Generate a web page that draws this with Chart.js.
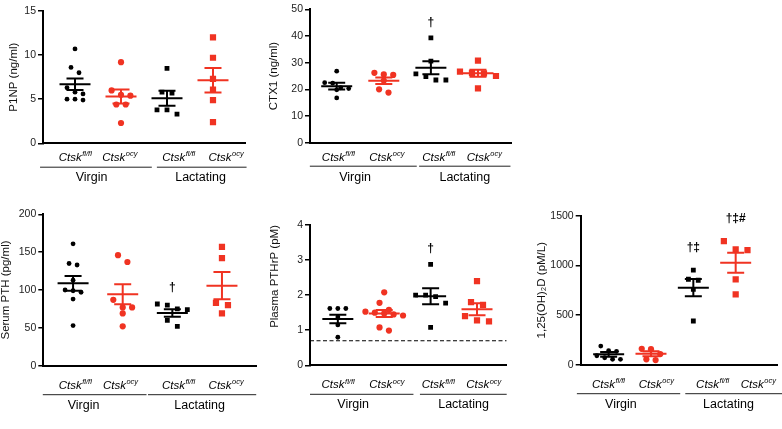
<!DOCTYPE html>
<html>
<head>
<meta charset="utf-8">
<script src="https://cdn.jsdelivr.net/npm/chart.js@4.4.1/dist/chart.umd.min.js"></script>
<style>
  body { margin: 0; background: #fff; width: 782px; height: 429px; position: relative; overflow: hidden; }
  canvas { position: absolute; }
</style>
</head>
<body>
<canvas id="p1"></canvas>
<canvas id="p2"></canvas>
<canvas id="p3"></canvas>
<canvas id="p4"></canvas>
<canvas id="p5"></canvas>
<script>
// ---- data ----
const groupNames = ["Virgin", "Lactating"];
const genoSup = ["fl/fl", "ocy", "fl/fl", "ocy"];

// P1NP (ng/ml)
const p1npFlV = [10.7, 8.6, 8.0, 6.3, 5.8, 5.6, 5.0, 5.0, 4.9];
const p1npOcyV = [9.2, 6.0, 5.5, 5.4, 4.4, 4.4, 2.3];
const p1npFlL = [8.5, 5.8, 5.7, 3.8, 3.8, 3.3];
const p1npOcyL = [12.0, 9.7, 7.3, 6.1, 4.9, 2.4];
const p1npMean = [6.7, 5.3, 5.1, 7.15];
const p1npSem = [0.65, 0.8, 0.85, 1.4];
const p1npMarks = ["", "", "", ""];
const p1npTicks = [0, 5, 10, 15];

// CTX1 (ng/ml)
const ctxFlV = [26.8, 22.5, 22.3, 20.6, 20.3, 19.8, 16.8];
const ctxOcyV = [26.2, 25.6, 25.4, 23.3, 20.0, 18.8];
const ctxFlL = [39.3, 30.6, 25.8, 24.8, 23.5, 23.5];
const ctxOcyL = [30.8, 26.6, 26.2, 26.0, 25.0, 20.4];
const ctxMean = [21.2, 23.2, 28.1, 26.0];
const ctxSem = [1.3, 1.2, 2.4, 1.3];
const ctxMarks = ["", "", "†", ""];
const ctxTicks = [0, 10, 20, 30, 40, 50];

// Serum PTH (pg/ml)
const pthFlV = [161, 135, 133, 113, 100, 99, 97, 88, 53];
const pthOcyV = [146, 137, 87, 77, 77, 69, 52];
const pthFlL = [81.5, 80, 75, 74, 60, 52];
const pthOcyL = [157, 142, 83, 80, 69];
const pthMean = [108.8, 94.3, 69.6, 105.7];
const pthSem = [9.7, 13.2, 5.0, 18];
const pthMarks = ["", "", "†", ""];
const pthTicks = [0, 50, 100, 150, 200];

// Plasma PTHrP (pM)
const pthrpFlV = [1.62, 1.62, 1.62, 1.38, 1.15, 0.8];
const pthrpOcyV = [2.08, 1.78, 1.58, 1.53, 1.5, 1.48, 1.45, 1.42, 1.08, 0.99];
const pthrpFlL = [2.88, 2.0, 2.0, 1.96, 1.77, 1.08];
const pthrpOcyL = [2.4, 1.8, 1.72, 1.4, 1.28, 1.25];
const pthrpMean = [1.32, 1.48, 1.97, 1.6];
const pthrpSem = [0.12, 0.1, 0.23, 0.17];
const pthrpMarks = ["", "", "†", ""];
const pthrpTicks = [0, 1, 2, 3, 4];
const pthrpLimit = 0.7;

// 1,25(OH)2D (pM/L)
const vitdFlV = [188, 141, 135, 90, 70, 55, 54];
const vitdOcyV = [160, 156, 107, 54, 47];
const vitdFlL = [953, 860, 850, 758, 440];
const vitdOcyL = [1245, 1160, 1154, 860, 708];
const vitdMean = [104, 111, 775, 1027];
const vitdSem = [25, 25, 87, 101];
const vitdMarks = ["", "", "†‡", "†‡#"];
const vitdTicks = [0, 500, 1000, 1500];

// ---- styling ----
const RED = "#f03322";
const BLACK = "#000";
const FONT = '"Liberation Sans", Arial, sans-serif';
const colors = [BLACK, RED, BLACK, RED];
const shapes = ["circle", "circle", "rect", "rect"];
const radii = [2.4, 3.1, 3.4, 4.4];

const panels = [
  {
    id: "p1", rect: [0, 0, 262, 195], plot: [43, 11, 245, 143.3],
    x: [0.304, 4.696], title: "P1NP (ng/ml)", titleX: 13.5, titleAlign: "center",
    series: [p1npFlV, p1npOcyV, p1npFlL, p1npOcyL], mean: p1npMean, sem: p1npSem,
    marks: p1npMarks, ticks: p1npTicks, markGap: 14,
    labX: [1.0, 1.97, 3.25, 4.28], lines: [[0.24, 2.67], [2.78, 4.73]], grpX: [1.36, 3.73],
    below: [17.5, 23.4, 37.7]
  },
  {
    id: "p2", rect: [262, 0, 258, 195], plot: [310, 9.3, 511.7, 142.7],
    x: [0.433, 4.716], title: "CTX1 (ng/ml)", titleX: 273.5, titleAlign: "center",
    series: [ctxFlV, ctxOcyV, ctxFlL, ctxOcyL], mean: ctxMean, sem: ctxSem,
    marks: ctxMarks, ticks: ctxTicks, markGap: 15,
    labX: [1.03, 2.06, 3.16, 4.13], lines: [[0.43, 2.70], [2.75, 4.69]], grpX: [1.39, 3.72],
    below: [18, 23, 38]
  },
  {
    id: "p3", rect: [0, 200, 262, 229], plot: [43.3, 214.3, 256.7, 365.7],
    x: [0.40, 4.70], title: "Serum PTH (pg/ml)", titleX: 5.5, titleAlign: "center",
    series: [pthFlV, pthOcyV, pthFlL, pthOcyL], mean: pthMean, sem: pthSem,
    marks: pthMarks, ticks: pthTicks, markGap: 16,
    labX: [1.04, 1.95, 3.12, 4.08], lines: [[0.39, 2.48], [2.51, 4.69]], grpX: [1.21, 3.55],
    below: [23, 28.5, 42.8]
  },
  {
    id: "p4", rect: [262, 200, 262, 229], plot: [310, 225, 506.7, 365.3],
    x: [0.40, 4.64], title: "Plasma PTHrP (pM)", titleX: 275, titleAlign: "end",
    series: [pthrpFlV, pthrpOcyV, pthrpFlL, pthrpOcyL], mean: pthrpMean, sem: pthrpSem,
    marks: pthrpMarks, ticks: pthrpTicks, markGap: 16, limit: pthrpLimit,
    labX: [1.00, 2.05, 3.16, 4.14], lines: [[0.40, 2.63], [2.77, 4.64]], grpX: [1.33, 3.71],
    below: [23, 28.5, 42.8]
  },
  {
    id: "p5", rect: [528, 200, 254, 229], plot: [580.7, 215.7, 780.7, 364.7],
    x: [0.34, 4.99], title: "1,25(OH)₂D (pM/L)", titleX: 542, titleAlign: "center",
    series: [vitdFlV, vitdOcyV, vitdFlL, vitdOcyL], mean: vitdMean, sem: vitdSem,
    marks: vitdMarks, ticks: vitdTicks, markGap: 22,
    labX: [0.99, 2.12, 3.45, 4.53], lines: [[0.25, 2.69], [2.81, 5.2]], grpX: [1.29, 3.83],
    below: [23, 28.5, 42.8]
  }
];

// simple GraphPad-like row layout of points around each category
function swarm(vals, cat, r, pxX, pxY) {
  const sorted = vals.slice().sort((a, b) => b - a);
  const rows = [];
  sorted.forEach(v => {
    const row = rows[rows.length - 1];
    if (row && (row[0] - v) * pxY < 2 * r + 1.5) row.push(v);
    else rows.push([v]);
  });
  const step = 2 * r + 3.2;
  const pts = [];
  rows.forEach(row => {
    row.forEach((v, i) => {
      pts.push({ x: cat + ((i - (row.length - 1) / 2) * step) / pxX, y: v });
    });
  });
  return pts;
}

function drawCtsk(ctx, cx, y, sup) {
  ctx.font = "italic 11.5px " + FONT;
  const w1 = ctx.measureText("Ctsk").width;
  ctx.font = "italic 7.5px " + FONT;
  const w2 = ctx.measureText(sup).width;
  const x0 = cx - (w1 + w2) / 2;
  ctx.textAlign = "left";
  ctx.textBaseline = "alphabetic";
  ctx.font = "italic 11.5px " + FONT;
  ctx.fillText("Ctsk", x0, y);
  ctx.font = "italic 7.5px " + FONT;
  ctx.fillText(sup, x0 + w1 + 0.5, y - 4.5);
}

panels.forEach(p => {
  const [cl, ct, cw, ch] = p.rect;
  const [pl, pt, pr, pb] = p.plot;
  const yMax = p.ticks[p.ticks.length - 1];
  const pxX = (pr - pl) / (p.x[1] - p.x[0]);
  const pxY = (pb - pt) / yMax;

  const canvas = document.getElementById(p.id);
  canvas.width = cw; canvas.height = ch;
  canvas.style.left = cl + "px"; canvas.style.top = ct + "px";
  canvas.style.width = cw + "px"; canvas.style.height = ch + "px";

  const datasets = p.series.map((vals, i) => ({
    data: swarm(vals, i + 1, radii[i], pxX, pxY),
    pointStyle: shapes[i],
    pointRadius: radii[i],
    pointBackgroundColor: colors[i],
    pointBorderColor: colors[i],
    pointBorderWidth: 0,
    showLine: false
  }));
  if (p.limit !== undefined) {
    datasets.push({
      type: "line",
      data: [{ x: p.x[0], y: p.limit }, { x: p.x[1], y: p.limit }],
      borderColor: "#000", borderWidth: 1.2, borderDash: [4, 2.5],
      pointRadius: 0, fill: false
    });
  }

  const decor = {
    id: "decor",
    afterDatasetsDraw(chart) {
      const ctx = chart.ctx;
      const xs = chart.scales.x, ys = chart.scales.y;
      ctx.save();
      // mean +/- SEM
      p.mean.forEach((m, i) => {
        const cx = xs.getPixelForValue(i + 1);
        const ym = ys.getPixelForValue(m);
        const y1 = ys.getPixelForValue(m + p.sem[i]);
        const y0 = ys.getPixelForValue(m - p.sem[i]);
        ctx.strokeStyle = colors[i];
        ctx.lineWidth = 2;
        ctx.beginPath();
        ctx.moveTo(cx - 15.5, ym); ctx.lineTo(cx + 15.5, ym);
        ctx.moveTo(cx, y1); ctx.lineTo(cx, y0);
        ctx.moveTo(cx - 8.5, y1); ctx.lineTo(cx + 8.5, y1);
        ctx.moveTo(cx - 8.5, y0); ctx.lineTo(cx + 8.5, y0);
        ctx.stroke();
      });
      // significance marks
      ctx.fillStyle = "#000";
      ctx.font = "bold 12px " + FONT;
      ctx.textAlign = "center";
      ctx.textBaseline = "middle";
      p.marks.forEach((mk, i) => {
        if (!mk) return;
        const top = ys.getPixelForValue(Math.max(...p.series[i]));
        ctx.fillText(mk, xs.getPixelForValue(i + 1), top - p.markGap);
      });
      ctx.restore();
    },
    afterDraw(chart) {
      const ctx = chart.ctx;
      const xs = chart.scales.x;
      const base = chart.chartArea.bottom;
      ctx.save();
      ctx.fillStyle = "#000";
      p.labX.forEach((lx, i) => drawCtsk(ctx, xs.getPixelForValue(lx), base + p.below[0], genoSup[i]));
      ctx.strokeStyle = "#222";
      ctx.lineWidth = 1;
      p.lines.forEach(([a, b]) => {
        ctx.beginPath();
        ctx.moveTo(xs.getPixelForValue(a), base + p.below[1] + 0.5);
        ctx.lineTo(xs.getPixelForValue(b), base + p.below[1] + 0.5);
        ctx.stroke();
      });
      ctx.font = "12.5px " + FONT;
      ctx.textAlign = "center";
      ctx.textBaseline = "alphabetic";
      p.grpX.forEach((gx, i) => ctx.fillText(groupNames[i], xs.getPixelForValue(gx), base + p.below[2]));
      ctx.restore();
    }
  };

  new Chart(canvas, {
    type: "scatter",
    data: { datasets },
    options: {
      responsive: false,
      animation: false,
      devicePixelRatio: 1,
      layout: { padding: { top: pt - ct, right: cl + cw - pr, left: 0, bottom: 0 } },
      plugins: { legend: { display: false }, tooltip: { enabled: false } },
      scales: {
        x: {
          type: "linear", min: p.x[0], max: p.x[1],
          ticks: { display: false },
          grid: { display: true, drawOnChartArea: false, drawTicks: false },
          border: { display: true, color: "#000", width: 2 },
          afterFit(s) { s.height = ct + ch - pb; }
        },
        y: {
          type: "linear", min: 0, max: yMax,
          afterBuildTicks(s) { s.ticks = p.ticks.map(v => ({ value: v })); },
          ticks: { color: "#222", font: { family: FONT, size: 10.5 }, padding: 2, callback: v => String(v) },
          grid: { drawOnChartArea: false, drawTicks: true, tickLength: 5, color: "#000", lineWidth: 1.5 },
          border: { display: true, color: "#000", width: 2 },
          title: {
            display: true, text: p.title, color: "#111", align: p.titleAlign,
            font: { family: FONT, size: 11.5 },
            padding: { top: p.titleX - cl - 7, bottom: 0 }
          },
          afterFit(s) { s.width = pl - cl; }
        }
      }
    },
    plugins: [decor]
  });
});
</script>
</body>
</html>
